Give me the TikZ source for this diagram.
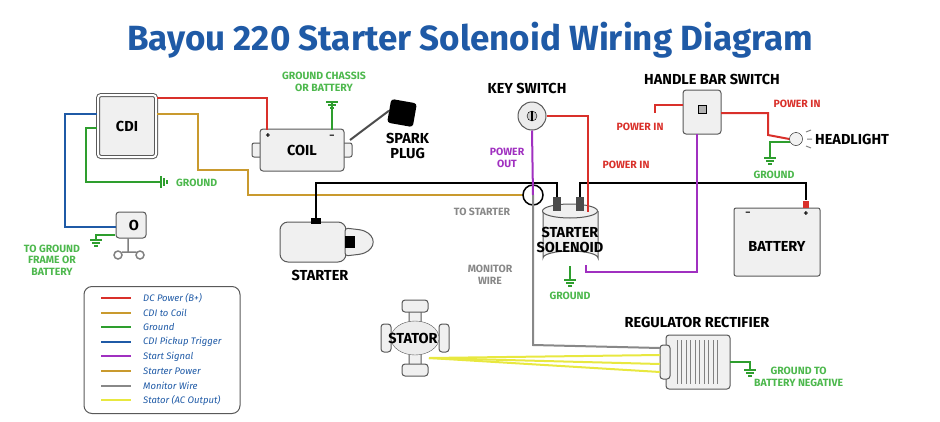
\documentclass[tikz,border=0pt]{standalone}
\usepackage{fontspec}
\setmainfont{Fira Sans}
\usetikzlibrary{shapes.geometric}
\begin{document}
\begin{tikzpicture}[x=1pt,y=-1pt,
 w/.style={line width=2pt},
 lbl/.style={font=\bfseries\fontsize{14.5}{15}\selectfont,align=center,inner sep=1pt},
 sm/.style={font=\bfseries\fontsize{10.5}{11.5}\selectfont,align=center,inner sep=1pt},
 part/.style={draw=gray!70!black,fill=gray!12,line width=1pt,rounded corners=3pt},
 lg/.style={font=\itshape\fontsize{9.5}{10}\selectfont,text=blu,anchor=west,inner sep=0}]
\definecolor{rd}{HTML}{D9302A}\definecolor{gd}{HTML}{C99A2E}\definecolor{gn}{HTML}{2E9E2E}
\definecolor{blu}{HTML}{1F5AA6}\definecolor{pu}{HTML}{A030C0}\definecolor{gy}{HTML}{888888}
\definecolor{ye}{HTML}{E8E840}\definecolor{lgn}{HTML}{4DB84D}
\tikzset{gnd/.pic={\draw[gn,line width=1.5pt] (-6,0)--(6,0) (-4,3)--(4,3) (-2,6)--(2,6);}}
\useasboundingbox (0,0) rectangle (940,421);
\node[font=\bfseries\fontsize{35}{36}\selectfont,text=blu] (title) at (470,40) {Bayou 220 Starter Solenoid Wiring Diagram};
% CDI
\node[part,minimum width=58,minimum height=62,double,double distance=2pt] (cdi) at (127,126) {};
\node[lbl] (cdit) at (127,126) {CDI};
% coil
\node[part,rounded corners=2pt,minimum width=100,minimum height=14] (coiltab) at (302,150) {};
\node[part,minimum width=84,minimum height=42] (coil) at (302,150) {};
\node[lbl] (coilt) at (302,150) {COIL};
\node[font=\bfseries\small,inner sep=0] (cp) at (268,136) {+};
\node[font=\bfseries\small,inner sep=0] (cm) at (332,137) {--};
% spark plug
\coordinate (spk) at (350,140);
\node[fill=black,rounded corners=3pt,minimum width=26,minimum height=24,rotate=-10] (cap) at (402,113) {};
\draw[line width=2pt,gray!60!black] (spk)--(cap.west);
\node[lbl,anchor=west] (sp) at (385,146) {SPARK\\PLUG};
\node[sm,text=lgn] (gch) at (324,82) {GROUND CHASSIS\\OR BATTERY};
\coordinate (gc) at (332,102);
\pic at (gc) {gnd};
\draw[w,gn] (gc)--(332,130);
% ignition switch
\node[part,minimum width=30,minimum height=26] (ign) at (131,225) {};
\node[lbl] (ignt) at (134,225) {O};
\draw[gray,line width=1.5pt] (128,238)--(128,252) (118,255) circle (4) (140,255) circle (4) (122,252)--(136,252);
\node[sm,text=lgn] (tg) at (52,260) {TO GROUND\\FRAME OR\\BATTERY};
\pic at (96,240) {gnd};
\draw[w,gn] (115,235)--(96,235)--(96,240);
% starter
\node[part,minimum width=66,minimum height=40,rounded corners=8pt] (st) at (313,242) {};
\draw[part] (345,228)--(362,230)..controls (376,236) and (376,248)..(362,254)--(345,256)--cycle;
\fill[black] (345,236) rectangle (355,248);
\node[fill=black,minimum width=10,minimum height=6,inner sep=0] (stt) at (316,221) {};
\node[lbl] (stl) at (320,275) {STARTER};
% key switch
\node[circle,draw=gray!70!black,fill=gray!15,line width=1pt,minimum size=28] (key) at (532,116) {};
\node[circle,draw=black,fill=gray!40,minimum size=10,inner sep=0] at (532,116) {};
\fill (531,111) rectangle (533,121);
\node[lbl] (keyl) at (527,88) {KEY SWITCH};
\node[sm,text=pu] (po) at (507,158) {POWER\\OUT};
% solenoid
\draw[part,rounded corners=0] (543,211) -- (543,258) arc[start angle=180,end angle=360,x radius=27.5,y radius=7] -- (598,211);
\draw[part,rounded corners=0] (570,211) ellipse (27.5 and 7);
\node[fill=black!70,minimum width=8,minimum height=14,inner sep=0] (t1) at (557,204) {};
\node[fill=black!70,minimum width=8,minimum height=14,inner sep=0] (t2) at (580,204) {};
\node[lbl] (sol) at (570,240) {STARTER\\SOLENOID};
% handle bar switch
\node[part,minimum width=38,minimum height=44] (hb) at (702,112) {};
\node[draw=black,fill=gray!60,minimum size=8,inner sep=0] at (702,109) {};
\node[lbl] (hbl) at (712,79) {HANDLE BAR SWITCH};
% headlight
\node[circle,draw=black,fill=gray!10,minimum size=13,inner sep=0] (hl) at (796,139) {};
\draw[gray,line width=1pt] (806,132)--(811,130) (807,139)--(812,139) (806,146)--(811,148);
\node[lbl,anchor=west] (hlt) at (814,139) {HEADLIGHT};
% battery
\node[part,rounded corners=2pt,minimum width=86,minimum height=68] (bat) at (777,242) {};
\node[font=\bfseries\small] (bm) at (748,214) {--};
\node[font=\bfseries\small] (bp) at (806,214) {+};
\node[fill=rd,minimum width=6,minimum height=7,inner sep=0] (bpt) at (806,204) {};
\node[lbl] (batt) at (777,246) {BATTERY};
% stator
\node[part,minimum width=12,minimum height=60] (sv) at (415,338) {};
\node[part,minimum width=26,minimum height=12] at (415,306) {};
\node[part,minimum width=26,minimum height=12] at (415,370) {};
\node[part,minimum width=10,minimum height=28] at (386,338) {};
\node[part,minimum width=10,minimum height=28] at (444,338) {};
\node[ellipse,draw=gray!70!black,fill=gray!15,minimum width=48,minimum height=34] (sta) at (415,338) {};
\node[lbl] (stat) at (413,338) {STATOR};
% regulator
\node[part,minimum width=64,minimum height=54] (rr) at (698,362) {};
\foreach \i in {0,...,9}{\draw[gray] (677+\i*4.5,340)--(677+\i*4.5,384);}
\node[part,minimum width=10,minimum height=34] (rc) at (665,362) {};
\node[lbl] (rrl) at (697,322) {REGULATOR RECTIFIER};
\node[sm,text=lgn,anchor=west] (gtb) at (753,377) {GROUND TO\\BATTERY NEGATIVE};
% ---------- wires
\draw[w,rd] (157,98)--(267,98)--(267,130);
\draw[w,gd] (157,114)--(198,114)--(198,170)--(248,170)--(248,195)--(523,195);
\draw[w,blu] (97,114)--(65,114)--(65,227)--(116,227);
\draw[w,gn] (97,128)--(86,128)--(86,182)--(160,182);
\draw[gn,line width=1.5pt] (161,176)--(161,188) (164,178)--(164,186) (167,180)--(167,184);
\node[sm,text=lgn,anchor=west] (g1) at (175,183) {GROUND};
\draw[w,black] (stt.north)--(316,183)--(557,183)--(t1.north);
\draw[w,black] (t2.north)--(580,183)--(806,183)--(bpt.north);
\draw[black,line width=1.5pt] (533,195) circle (10);
\node[sm,text=gy] (ts) at (482,212) {TO STARTER};
\node[sm,text=gy] (mw) at (490,275) {MONITOR\\WIRE};
\draw[w,pu] (key.south)--(533,195);
\draw[w,gy] (533,195)--(533,345)--(660,348);
\draw[w,rd] (key.east)--(588,116)--(588,212);
\node[sm,text=rd] (pi1) at (626,165) {POWER IN};
\draw[w,gn] (570,266)--(570,280);
\pic at (570,280) {gnd};
\node[sm,text=lgn] (g2) at (570,296) {GROUND};
\draw[w,pu] (586,265)--(586,272)--(697,272)--(697,134);
\draw[w,rd] (683,105)--(655,105)--(655,113);
\node[sm,text=rd] (pi2) at (640,127) {POWER IN};
\draw[w,rd] (721,113)--(768,113)--(768,135)--(hl.west);
\node[sm,text=rd] (pi3) at (797,104) {POWER IN};
\draw[w,gn] (790,142)--(770,142)--(770,158);
\pic at (770,158) {gnd};
\node[sm,text=lgn] (g3) at (774,175) {GROUND};
\draw[w,gn] (730,362)--(750,362)--(750,370);
\pic at (750,370) {gnd};
\foreach \yy in {355,364,372}{\draw[ye,line width=2pt] (429,358)--(660,\yy);}
% legend
\node[draw=gray!70!black,line width=1pt,rounded corners=8pt,minimum width=156,minimum height=127] (leg) at (162,350) {};
\foreach \c/\t [count=\i from 0] in {rd/DC Power (B+),gd/CDI to Coil,gn/Ground,blu/CDI Pickup Trigger,pu/Start Signal,gd/Starter Power,gy/Monitor Wire,ye/Stator (AC Output)}{
 \draw[\c,line width=2pt] (101,298+\i*14.6)--(131,298+\i*14.6);
 \node[lg] at (143,298+\i*14.6) {\t};}
\end{tikzpicture}
\end{document}
